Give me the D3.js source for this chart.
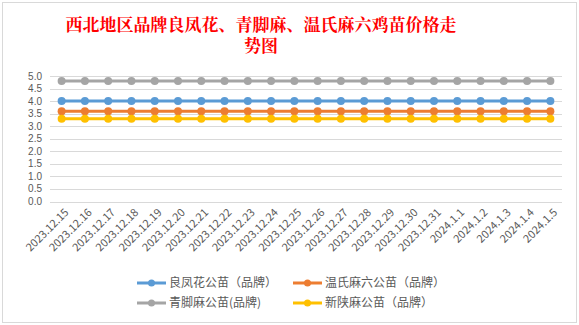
<!DOCTYPE html>
<html>
<head>
<meta charset="utf-8">
<script src="https://cdn.jsdelivr.net/npm/d3@7"></script>
<style>
  body { margin: 0; background: #fff; }
  svg { display: block; }
  text { font-family: "Noto Sans CJK SC", "Noto Sans", sans-serif; }
</style>
</head>
<body>
<script>
const dates = ["2023.12.15", "2023.12.16", "2023.12.17", "2023.12.18", "2023.12.19", "2023.12.20",
    "2023.12.21", "2023.12.22", "2023.12.23", "2023.12.24", "2023.12.25", "2023.12.26",
    "2023.12.27", "2023.12.28", "2023.12.29", "2023.12.30", "2023.12.31",
    "2024.1.1", "2024.1.2", "2024.1.3", "2024.1.4", "2024.1.5"];

const lianghuafeng = [4.0, 4.0, 4.0, 4.0, 4.0, 4.0, 4.0, 4.0, 4.0, 4.0, 4.0, 4.0, 4.0, 4.0, 4.0, 4.0, 4.0, 4.0, 4.0, 4.0, 4.0, 4.0];
const wenshi = [3.6, 3.6, 3.6, 3.6, 3.6, 3.6, 3.6, 3.6, 3.6, 3.6, 3.6, 3.6, 3.6, 3.6, 3.6, 3.6, 3.6, 3.6, 3.6, 3.6, 3.6, 3.6];
const qingjiao = [4.8, 4.8, 4.8, 4.8, 4.8, 4.8, 4.8, 4.8, 4.8, 4.8, 4.8, 4.8, 4.8, 4.8, 4.8, 4.8, 4.8, 4.8, 4.8, 4.8, 4.8, 4.8];
const xinshan = [3.3, 3.3, 3.3, 3.3, 3.3, 3.3, 3.3, 3.3, 3.3, 3.3, 3.3, 3.3, 3.3, 3.3, 3.3, 3.3, 3.3, 3.3, 3.3, 3.3, 3.3, 3.3];

const seriesNames = ["良凤花公苗（品牌）", "温氏麻六公苗（品牌）", "青脚麻公苗(品牌)", "新陕麻公苗（品牌）"];
const seriesValues = [lianghuafeng, wenshi, qingjiao, xinshan];
const seriesColors = ["#5b9bd5", "#ed7d31", "#a5a5a5", "#ffc000"];
const yTicks = [0, 0.5, 1, 1.5, 2, 2.5, 3, 3.5, 4, 4.5, 5];

const width = 579, height = 325;
const plot = { left: 50, right: 562, top: 76, bottom: 201.5 };

const svg = d3.select("body").append("svg")
    .attr("width", width)
    .attr("height", height);

// chart frame
svg.append("rect")
    .attr("x", 2.5).attr("y", 2.5)
    .attr("width", 574).attr("height", 320)
    .attr("fill", "#fff")
    .attr("stroke", "#d9d9d9");

// title
const title = svg.append("text")
    .attr("text-anchor", "middle")
    .attr("fill", "#ff0000")
    .attr("font-size", 17)
    .attr("font-weight", "bold")
    .style("font-family", "'Noto Serif CJK SC', 'Noto Sans CJK SC', serif");
title.append("tspan").attr("x", 261).attr("y", 31).text("西北地区品牌良凤花、青脚麻、温氏麻六鸡苗价格走");
title.append("tspan").attr("x", 261).attr("y", 52).text("势图");

const x = d3.scaleBand()
    .domain(dates)
    .range([plot.left, plot.right]);

const y = d3.scaleLinear()
    .domain([0, 5])
    .range([plot.bottom, plot.top]);

// gridlines
svg.append("g")
    .selectAll("line")
    .data(yTicks)
    .join("line")
    .attr("x1", plot.left).attr("x2", plot.right)
    .attr("y1", d => Math.round(y(d)) + 0.5)
    .attr("y2", d => Math.round(y(d)) + 0.5)
    .attr("stroke", "#d9d9d9");

// y labels
svg.append("g")
    .selectAll("text")
    .data(yTicks)
    .join("text")
    .attr("x", 42)
    .attr("y", d => y(d))
    .attr("dy", "0.35em")
    .attr("text-anchor", "end")
    .attr("font-size", 10)
    .style("font-family", "'Liberation Sans', Arial, sans-serif")
    .attr("fill", "#595959")
    .text(d => d.toFixed(1));

// x labels
svg.append("g")
    .selectAll("text")
    .data(dates)
    .join("text")
    .attr("transform", d => `translate(${x(d) + x.bandwidth() / 2 + 5},${plot.bottom + 9}) rotate(-45)`)
    .attr("text-anchor", "end")
    .attr("dy", "0.35em")
    .attr("font-size", 11)
    .attr("fill", "#595959")
    .text(d => d);

const line = d3.line()
    .x((d, i) => x(dates[i]) + x.bandwidth() / 2)
    .y(d => y(d));

seriesValues.forEach((vals, s) => {
    const g = svg.append("g");
    g.append("path")
        .datum(vals)
        .attr("d", line)
        .attr("fill", "none")
        .attr("stroke", seriesColors[s])
        .attr("stroke-width", 3)
        .attr("stroke-linecap", "round");
    g.selectAll("circle")
        .data(vals)
        .join("circle")
        .attr("cx", (d, i) => x(dates[i]) + x.bandwidth() / 2)
        .attr("cy", d => y(d))
        .attr("r", 4)
        .attr("fill", seriesColors[s]);
});

// legend
const legendPos = [[137, 283], [293, 283], [137, 303], [293, 303]];
const legend = svg.append("g")
    .selectAll("g")
    .data(seriesNames)
    .join("g")
    .attr("transform", (d, i) => `translate(${legendPos[i][0]},${legendPos[i][1]})`);
legend.append("line")
    .attr("x1", 0).attr("x2", 29)
    .attr("stroke", (d, i) => seriesColors[i])
    .attr("stroke-width", 3);
legend.append("circle")
    .attr("cx", 14.5)
    .attr("r", 3.5)
    .attr("fill", (d, i) => seriesColors[i]);
legend.append("text")
    .attr("x", 32)
    .attr("dy", "0.35em")
    .attr("font-size", 12)
    .attr("fill", "#595959")
    .text(d => d);
</script>
</body>
</html>
